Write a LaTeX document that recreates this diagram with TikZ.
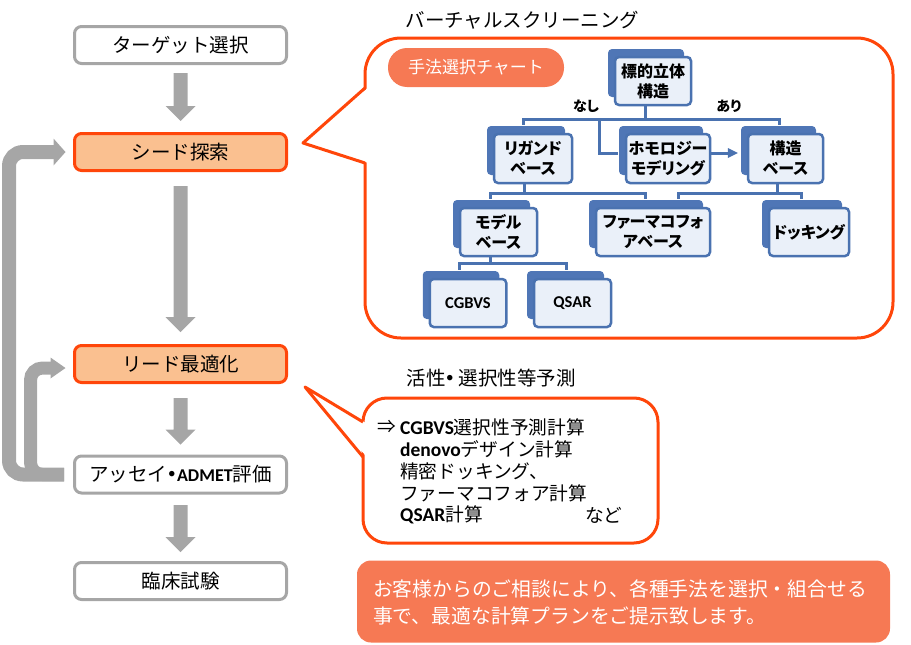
\documentclass[tikz,border=0pt]{standalone}
\usepackage{fontspec}
\setmainfont{Noto Sans CJK JP}
\newfontfamily\jpp{Noto Sans CJK JP}[RawFeature=+palt]
\newfontfamily\latb{Carlito}
\usetikzlibrary{calc,shadows}
\definecolor{boxgray}{RGB}{166,166,166}
\definecolor{arrowgray}{RGB}{166,166,166}
\definecolor{orfill}{RGB}{250,192,144}
\definecolor{orline}{RGB}{255,70,10}
\definecolor{coral}{RGB}{246,121,84}
\definecolor{cblue}{RGB}{74,114,176}
\definecolor{cshadow}{RGB}{79,118,182}
\definecolor{cfill}{RGB}{234,240,249}
\newcommand\vblockarrow[2]{\fill[arrowgray] ($(#1)+(-7,0)$) -- ($(#2)+(-7,-15)$) -- ($(#2)+(-15,-15)$) -- (#2) -- ($(#2)+(15,-15)$) -- ($(#2)+(7,-15)$) -- ($(#1)+(7,0)$) -- cycle;}
\begin{document}
\begin{tikzpicture}[x=1pt,y=-1pt,
  flow/.style={draw=boxgray, line width=3pt, rounded corners=7pt, fill=white, minimum width=212pt, minimum height=37pt, inner sep=0pt, font=\fontsize{19.5}{22}\selectfont},
  hot/.style={flow, draw=orline, fill=orfill},
  cnode/.style={draw=cblue, line width=2.5pt, fill=cfill, rounded corners=4pt, inner sep=0pt, align=center, minimum height=48pt, font=\jpp\bfseries\fontsize{16}{20}\selectfont, general shadow={fill=cshadow, shadow xshift=-7pt, shadow yshift=8pt}},
  conn/.style={draw=cblue, line width=3pt},
  callout/.style={draw=orline, line width=3pt},
  ttl/.style={font=\fontsize{19.5}{22}\selectfont},
  ctext/.style={anchor=west, inner sep=0pt, font=\fontsize{18.7}{22}\selectfont}]
\useasboundingbox (0,0) rectangle (911,645);

% ---------- left flow ----------
\node[flow] (tgt) at (180.5,45) {ターゲット選択};
\node[hot] (seed) at (180.5,152) {シード探索};
\node[hot] (lead) at (180.5,364) {リード最適化};
\node[flow] (assay) at (180.5,474.5) {アッセイ{\jpp\bfseries ・}{\latb\bfseries\fontsize{18}{22}\selectfont ADMET}評価};
\node[flow] (clin) at (180.5,581) {臨床試験};

\coordinate (a1s) at ($(tgt.south)+(0,8)$);
\coordinate (a1e) at ($(seed.north)+(0,-11)$);
\coordinate (a2s) at ($(seed.south)+(0,14)$);
\coordinate (a2e) at ($(lead.north)+(0,-12)$);
\coordinate (a3s) at ($(lead.south)+(0,14)$);
\coordinate (a3e) at ($(assay.north)+(0,-10)$);
\coordinate (a4s) at ($(assay.south)+(0,10.5)$);
\coordinate (a4e) at ($(clin.north)+(0,-9)$);
\vblockarrow{a1s}{a1e}
\vblockarrow{a2s}{a2e}
\vblockarrow{a3s}{a3e}
\vblockarrow{a4s}{a4e}

% loop arrows
\draw[arrowgray, line width=14pt, rounded corners=14pt] ($(assay.west)+(-9,0)$) -- ($(assay.west)+(-64,0)$) |- ($(seed.west)+(-18,0)$);
\coordinate (l1t) at ($(seed.west)+(-7.5,0)$);
\fill[arrowgray] (l1t) -- ++(-12,-13.5) -- ++(0,27) -- cycle;
\draw[arrowgray, line width=13pt, rounded corners=12pt] ($(assay.west)+(-9,0)$) -- ($(assay.west)+(-42.5,0)$) |- ($(lead.west)+(-21.5,4)$);
\coordinate (l2t) at ($(lead.west)+(-7.5,4)$);
\fill[arrowgray] (l2t) -- ++(-15,-10.5) -- ++(0,21) -- cycle;

% ---------- virtual screening callout ----------
\node[ttl] (vstitle) at (522.5,20) {バーチャルスクリーニング};
\draw[callout, rounded corners=36pt] (365,38) rectangle (893,338);
\fill[white] (367,88.5) -- (303,143) -- (367,162.5) -- cycle;
\draw[callout, line join=round] (365,88) -- (303,143) -- (365,163);

\node[fill=coral, rounded corners=19pt, minimum width=176pt, minimum height=39pt, inner sep=0pt, text=white, font=\fontsize{17}{20}\selectfont] (pill) at (476,67.5) {手法選択チャート};

% chart nodes
\node[cnode, minimum width=76pt] (tgs) at (653,81) {標的立体\\構造};
\node[cnode, minimum width=78pt, minimum height=49pt] (lig) at (533,158.5) {リガンド\\ベース};
\node[cnode, minimum width=84pt, minimum height=49pt] (hom) at (668,158.5) {ホモロジー\\モデリング};
\node[cnode, minimum width=75pt, minimum height=49pt] (str) at (785.5,158.5) {構造\\ベース};
\node[cnode, minimum width=77pt] (mod) at (498.5,232) {モデル\\ベース};
\node[cnode, minimum width=114pt] (pha) at (653,232) {ファーマコフォ\\アベース};
\node[cnode, minimum width=80pt] (dock) at (809,232) {ドッキング};
\node[cnode, minimum width=76.5pt, font=\latb\bfseries\fontsize{16.5}{20}\selectfont] (cg) at (468,303) {CGBVS};
\node[cnode, minimum width=77pt, font=\latb\bfseries\fontsize{16.5}{20}\selectfont] (qs) at (572.5,303) {QSAR};

\node[font=\jpp\bfseries\fontsize{14}{16}\selectfont, inner sep=0pt] (nashi) at (586,106) {なし};
\node[font=\jpp\bfseries\fontsize{14}{16}\selectfont, inner sep=0pt] (ari) at (729,106) {あり};

% chart connectors
\coordinate (b1) at ($(tgs.south)+(-8,13)$);
\draw[conn] ($(tgs.south)+(-8,0)$) -- (b1);
\draw[conn] ($(lig.north)+(-10,-8)$) |- (b1) -| ($(str.north)+(-6.5,-8)$);
\draw[conn] ($(b1)+(-46,0)$) |- ($(hom.west)+(-7,-5.5)$);
\coordinate (hs) at ($(hom.east)+(0,-5.5)$);
\coordinate (ht) at ($(str.west)+(-9,-5.5)$);
\draw[conn] (hs) -- ($(ht)+(-7,0)$);
\fill[cblue] (ht) -- ++(-10,-5) -- ++(0,10) -- cycle;

\coordinate (b2) at ($(lig.south)+(-9,9)$);
\draw[conn] ($(lig.south)+(-9,0)$) -- (b2);
\draw[conn] ($(mod.north)+(-8.5,-8)$) |- (b2) -| ($(pha.north)+(-8,-8)$);

\coordinate (b3) at ($(str.south)+(-8.5,9)$);
\draw[conn] ($(str.south)+(-8.5,0)$) -- (b3);
\draw[conn] ($(pha.north)+(25,-8)$) |- (b3) -| ($(dock.north)+(-8,-8)$);

\coordinate (b4) at ($(mod.south)+(-8.5,6)$);
\draw[conn] ($(mod.south)+(-8.5,0)$) -- (b4);
\draw[conn] ($(cg.north)+(-9,-8)$) |- (b4) -| ($(qs.north)+(-6.5,-8)$);

% ---------- prediction callout ----------
\node[ttl] (prtitle) at (491,378) {活性{\jpp\bfseries ・}\,選択性等予測};
\draw[callout, rounded corners=24pt] (363,398) rectangle (658,543);
\fill[white] (366,423) -- (305,387) -- (366,456) -- cycle;
\draw[callout, line join=round] (363,422) -- (305,387) -- (363,457);

\node[ctext] (arr) at (377,427) {⇒};
\node[ctext] (p1) at (400,427) {{\latb\bfseries\fontsize{19.5}{22}\selectfont CGBVS}選択性予測計算};
\node[ctext] (p2) at (400,449) {{\latb\bfseries\fontsize{19.5}{22}\selectfont denovo}デザイン計算};
\node[ctext] (p3) at (400,471) {精密ドッキング、};
\node[ctext] (p4) at (400,493) {ファーマコフォア計算};
\node[ctext] (p5) at (400,515) {{\latb\bfseries\fontsize{19.5}{22}\selectfont QSAR}計算};
\node[ctext] (nado) at (585,515) {など};

% ---------- bottom message ----------
\node[fill=coral, rounded corners=14pt, minimum width=533pt, minimum height=82pt, inner sep=0pt] (plan) at (623.5,601.5) {};
\node[anchor=west, align=left, inner sep=0pt, text=white, font=\fontsize{19.8}{27}\selectfont] (plantext) at ($(plan.west)+(16,1)$) {お客様からのご相談により、各種手法を選択・組合せる\\事で、最適な計算プランをご提示致します。};
\end{tikzpicture}
\end{document}
